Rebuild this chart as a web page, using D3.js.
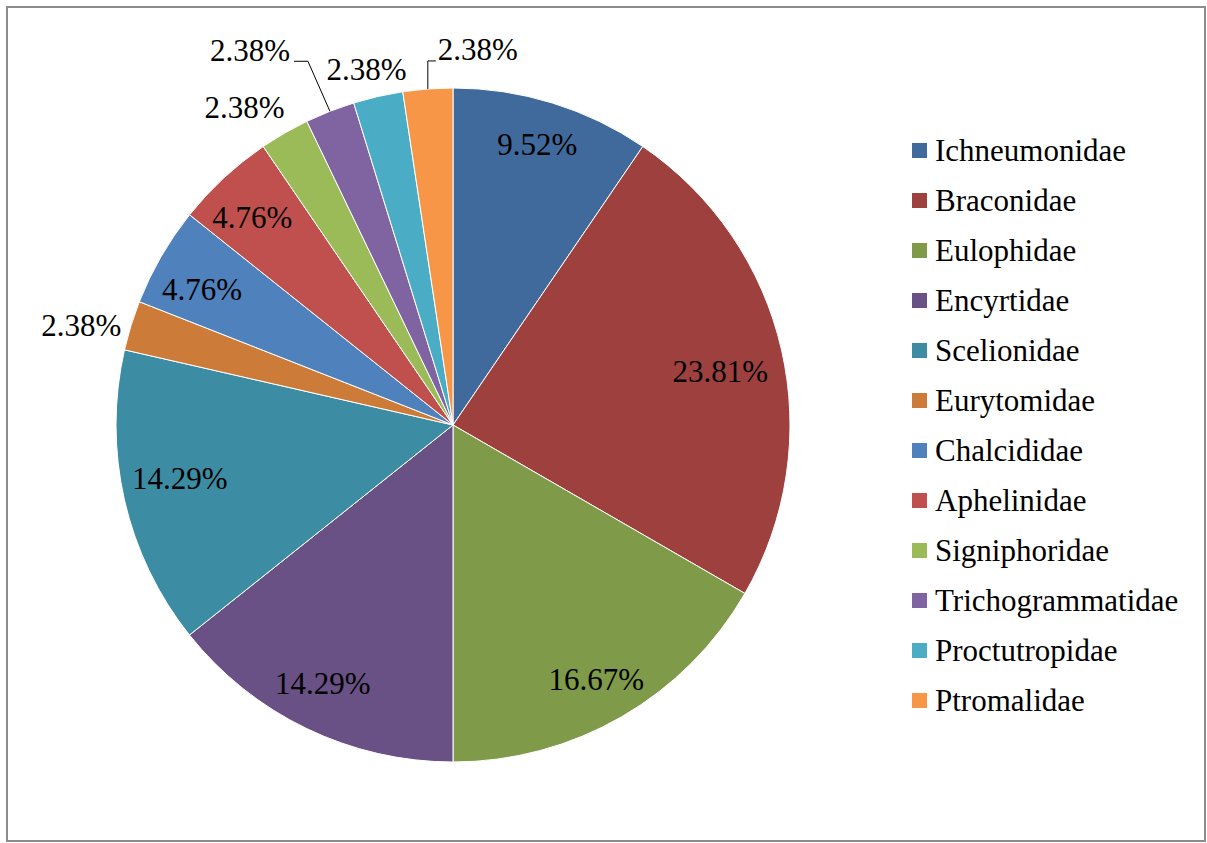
<!DOCTYPE html>
<html>
<head>
<meta charset="utf-8">
<script src="https://cdn.jsdelivr.net/npm/d3@7"></script>
<style>
  body { margin: 0; background: #fff; }
</style>
</head>
<body>
<div id="chart"></div>
<script>
// data
const families = ['Ichneumonidae', 'Braconidae', 'Eulophidae', 'Encyrtidae', 'Scelionidae', 'Eurytomidae',
    'Chalcididae', 'Aphelinidae', 'Signiphoridae', 'Trichogrammatidae', 'Proctutropidae', 'Ptromalidae'];
const shares = [9.52, 23.81, 16.67, 14.29, 14.29, 2.38, 4.76, 4.76, 2.38, 2.38, 2.38, 2.38];
const colours = ['#3F6A9B', '#9E413E', '#7F9A48', '#695185', '#3C8DA3', '#CC7B38',
    '#4F81BD', '#C0504D', '#9BBB59', '#8064A2', '#4BACC6', '#F79646'];

const width = 1207;
const height = 843;
const cx = 453;
const cy = 425;
const radius = 337;
const fontSize = 31;
const fontFamily = '"Liberation Serif", "Times New Roman", serif';
const outsideGap = 12;

// small nudges so labels sit where excel put them
const labelNudge = {
    Ichneumonidae: [0, -7],
    Braconidae: [-12, 10],
    Eulophidae: [0, 6],
    Encyrtidae: [-6, 0],
    Scelionidae: [6, -10],
    Eurytomidae: [0, 8],
    Chalcididae: [-3, 8],
    Aphelinidae: [-6, 3],
    Signiphoridae: [-14, -2]
};

// labels pushed away from their slice, drawn with leader lines (offset from slice edge)
const movedLabels = {
    Trichogrammatidae: [-80, -61],
    Ptromalidae: [50, -39]
};

const svg = d3.select('#chart').append('svg')
    .attr('width', width)
    .attr('height', height);

svg.append('rect')
    .attr('x', 7).attr('y', 7)
    .attr('width', width - 9).attr('height', height - 9)
    .attr('fill', '#fff')
    .attr('stroke', '#8c8c8c')
    .attr('stroke-width', 2);

const pieData = d3.pie().sort(null).value(d => d.value)(
    families.map((name, i) => ({ name: name, value: shares[i], colour: colours[i] })));

const arc = d3.arc().innerRadius(0).outerRadius(radius);
const innerLabelArc = d3.arc().innerRadius(radius * 0.85).outerRadius(radius * 0.85);
const edgeArc = d3.arc().innerRadius(radius).outerRadius(radius);

const pieGroup = svg.append('g')
    .attr('transform', `translate(${cx},${cy})`);

pieGroup.selectAll('.slice')
    .data(pieData)
    .enter()
    .append('path')
    .attr('class', 'slice')
    .attr('d', arc)
    .attr('fill', d => d.data.colour)
    .attr('stroke', '#fff')
    .attr('stroke-width', 1);

const labels = pieGroup.selectAll('.slice-label')
    .data(pieData)
    .enter()
    .append('text')
    .attr('class', 'slice-label')
    .attr('text-anchor', 'middle')
    .attr('dominant-baseline', 'central')
    .attr('font-family', fontFamily)
    .attr('font-size', fontSize)
    .attr('fill', '#000')
    .text(d => d.data.value.toFixed(2) + '%');

const halfHeight = fontSize * 0.5;

function labelPos (d, halfWidth) {
    const edge = edgeArc.centroid(d);
    const moved = movedLabels[d.data.name];
    if (moved) return [edge[0] + moved[0], edge[1] + moved[1]];
    let p;
    if (d.data.value < 3) {
        const mid = (d.startAngle + d.endAngle) / 2;
        const s = Math.sin(mid);
        const c = Math.cos(mid);
        p = [edge[0] + s * (outsideGap + halfWidth), edge[1] - c * (outsideGap + halfHeight)];
    } else {
        p = innerLabelArc.centroid(d);
    }
    const n = labelNudge[d.data.name] || [0, 0];
    return [p[0] + n[0], p[1] + n[1]];
}

labels.each(function (d) {
    const hw = this.getComputedTextLength() / 2;
    const p = labelPos(d, hw);
    d.labelXY = p;
    d.halfWidth = hw;
    d3.select(this).attr('x', p[0]).attr('y', p[1]);
});

// leader lines
pieData.filter(d => movedLabels[d.data.name]).forEach(d => {
    const edge = edgeArc.centroid(d);
    const pos = d.labelXY;
    const lineY = pos[1] + 11;
    let pts;
    if (pos[0] < edge[0]) {
        const right = pos[0] + d.halfWidth + 4;
        pts = [edge, [right + 14, lineY], [right, lineY]];
    } else {
        const left = pos[0] - d.halfWidth - 2;
        pts = [edge, [edge[0], lineY], [left, lineY]];
    }
    pieGroup.append('path')
        .attr('d', d3.line()(pts))
        .attr('fill', 'none')
        .attr('stroke', '#000')
        .attr('stroke-width', 1);
});

// legend
const legendY = d3.scalePoint().domain(families).range([150, 700]);
const legend = svg.append('g').attr('class', 'legend');
const items = legend.selectAll('.legend-item')
    .data(families)
    .enter()
    .append('g')
    .attr('class', 'legend-item')
    .attr('transform', d => `translate(912,${legendY(d)})`);
items.append('rect')
    .attr('x', 0).attr('y', -7)
    .attr('width', 15).attr('height', 15)
    .attr('fill', (d, i) => colours[i]);
items.append('text')
    .attr('x', 23)
    .attr('y', 0)
    .attr('dominant-baseline', 'central')
    .attr('font-family', fontFamily)
    .attr('font-size', fontSize)
    .attr('fill', '#000')
    .text(d => d);
</script>
</body>
</html>
